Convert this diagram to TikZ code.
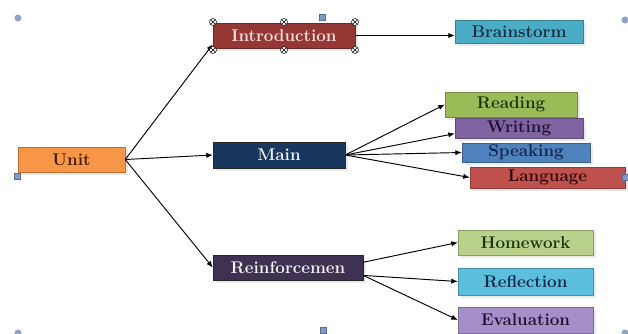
\documentclass[tikz,border=0pt]{standalone}
\usepackage{xcolor}
\usepackage{tikz}
\usetikzlibrary{arrows.meta,shadows}
\definecolor{unitc}{HTML}{F79646}  \definecolor{unittx}{HTML}{3A1C08}
\definecolor{introc}{HTML}{953735} \definecolor{introtx}{HTML}{F2DCDB}
\definecolor{brainc}{HTML}{4BACC6} \definecolor{braintx}{HTML}{1A2A40}
\definecolor{mainc}{HTML}{17375E}  \definecolor{maintx}{HTML}{F0F0F0}
\definecolor{readc}{HTML}{9BBB59}  \definecolor{readtx}{HTML}{1C3312}
\definecolor{writc}{HTML}{8064A2}  \definecolor{writtx}{HTML}{1E1030}
\definecolor{speac}{HTML}{4F81BD}  \definecolor{speatx}{HTML}{14254A}
\definecolor{langc}{HTML}{C0504D}  \definecolor{langtx}{HTML}{2A0A0A}
\definecolor{reinc}{HTML}{3F3151}  \definecolor{reintx}{HTML}{F0F0F0}
\definecolor{homec}{HTML}{B9D18A}  \definecolor{hometx}{HTML}{1C3312}
\definecolor{reflc}{HTML}{5CC0DC}  \definecolor{refltx}{HTML}{14254A}
\definecolor{evalc}{HTML}{A68FC8}  \definecolor{evaltx}{HTML}{1E1030}
\definecolor{hdl}{HTML}{8EA4C0}    \definecolor{hdlsq}{HTML}{7F9CC8}
\tikzset{
  box/.style={draw=#1!75!black, fill=#1, thin, inner sep=0pt,
    font=\fontsize{14.5}{16}\selectfont\bfseries,
    drop shadow={shadow xshift=2.2pt, shadow yshift=-2.2pt, fill=black!16}},
  sz/.style 2 args={minimum width=#1*0.03cm, minimum height=#2*0.03cm},
  link/.style={-{Latex[length=5.5pt,width=4.5pt]}, line width=0.8pt},
  grip/.style={fill=hdl},
  gripsq/.style={fill=hdlsq, draw=hdlsq!70!black, thin},
}
\begin{document}
\begin{tikzpicture}[x=0.03cm,y=-0.03cm]
      \useasboundingbox (0,0) rectangle (628,333);
      \node[box=unitc,  sz={107}{25}, text=unittx]  (unit)  at ( 71.5,159.5) {Unit};
      \node[box=introc, sz={142}{25}, text=introtx] (intro) at (284  , 35.5) {Introduction};
      \node[box=brainc, sz={128}{23}, text=braintx] (brain) at (519  , 31.5) {Brainstorm};
      \node[box=mainc,  sz={132}{26}, text=maintx, draw=black!85] (main) at (279, 155) {Main};
      \node[box=readc,  sz={132}{25}, text=readtx]  (read)  at (511  ,104.5) {Reading};
      \node[box=writc,  sz={128}{20}, text=writtx]  (writ)  at (519  ,128  ) {Writing};
      \node[box=speac,  sz={128}{19}, text=speatx]  (spea)  at (526  ,152.5) {Speaking};
      \node[box=langc,  sz={155}{21}, text=langtx]  (lang)  at (547.5,177.5) {Language};
      \node[box=reinc,  sz={150}{25}, text=reintx, draw=black!85] (reinf) at (288, 267.5) {Reinforcemen};
      \node[box=homec,  sz={135}{25}, text=hometx]  (home)  at (525.5,242.5) {Homework};
      \node[box=reflc,  sz={135}{27}, text=refltx]  (refl)  at (525.5,281.5) {Reflection};
      \node[box=evalc,  sz={135}{26}, text=evaltx]  (eval)  at (525.5,320  ) {Evaluation};
      \draw[link] (unit.east)  -- (intro.187);
      \draw[link] (unit.east)  -- (main.west);
      \draw[link] (unit.east)  -- (reinf.west);
      \draw[link] (intro.east) -- (intro.east -| brain.west);
      \draw[link] (main.east)  -- (read.west);
      \draw[link] (main.east)  -- (writ.185);
      \draw[link] (main.east)  -- (spea.west);
      \draw[link] (main.east)  -- (lang.west);
      \draw[link] (reinf.4)    -- (home.west);
      \draw[link] (reinf.-6)   -- (refl.west);
      \draw[link] (reinf.-6)   -- (eval.west);
      \foreach \x/\y in {18/18, 625/20, 18/333, 625/333}
        \fill[grip] (\x,\y) circle (3pt);
      \foreach \x/\y in {322/17, 17/176, 625/177, 323/330}
        \draw[gripsq] (\x,\y) +(-2.6pt,-2.6pt) rectangle +(2.6pt,2.6pt);
      \foreach \x in {213,284,355}
        \foreach \y in {22,50}
          \draw[thin,fill=white] (\x,\y) circle (3pt)
            +(-2.1pt,-2.1pt) -- +(2.1pt,2.1pt) +(-2.1pt,2.1pt) -- +(2.1pt,-2.1pt);
    \end{tikzpicture}
\end{document}
